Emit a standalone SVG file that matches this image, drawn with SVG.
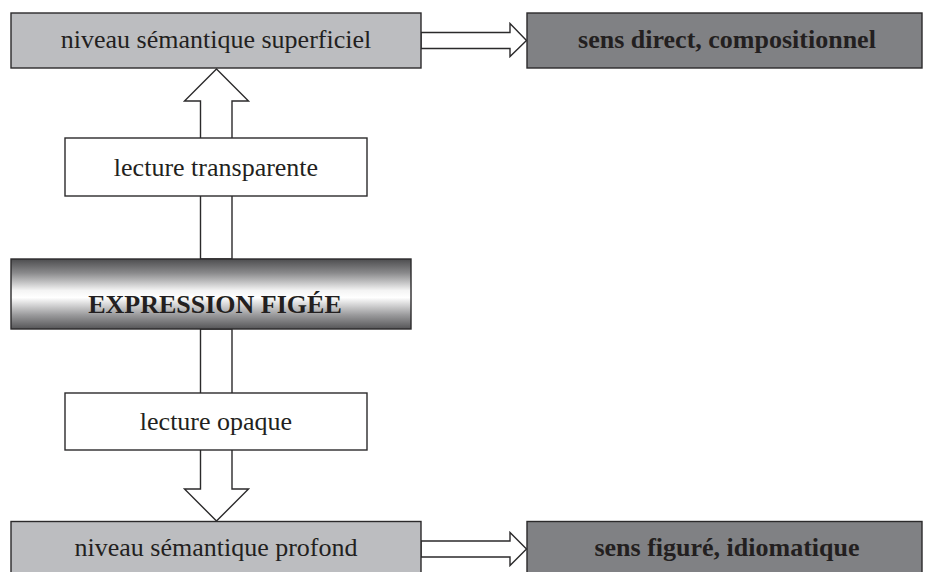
<svg xmlns="http://www.w3.org/2000/svg" width="932" height="572" viewBox="0 0 932 572">
<defs>
<style>
.bx{stroke:#2b2a2b;stroke-width:1.4}
.light{fill:#bcbdc0}
.dark{fill:#808184}
.white{fill:#ffffff}
.ar{fill:#ffffff;stroke:#2b2a2b;stroke-width:1.4;stroke-linejoin:miter}
.t{font-family:"Liberation Serif","Times New Roman",serif;font-size:26px;fill:#231f20;text-anchor:middle}
.b{font-weight:bold}
</style>
<linearGradient id="g" x1="0" y1="0" x2="0" y2="1">
<stop offset="0" stop-color="#4d4d4f"/>
<stop offset="0.2" stop-color="#8a8a8c"/>
<stop offset="0.45" stop-color="#f4f4f4"/>
<stop offset="0.55" stop-color="#ffffff"/>
<stop offset="0.8" stop-color="#9a9a9c"/>
<stop offset="1" stop-color="#555557"/>
</linearGradient>
</defs>
<rect width="932" height="572" fill="#ffffff"/>
<g id="connectors">
<polygon class="ar" points="216.5,69 248.5,101 232,101 232,259 200.5,259 200.5,101 184.5,101"/>
<polygon class="ar" points="216.5,521 248.5,489 232,489 232,329 200.5,329 200.5,489 184.5,489"/>
<polygon class="ar" points="421,32.5 510,32.5 510,23.5 526.5,40.5 510,56.5 510,48.5 421,48.5"/>
<polygon class="ar" points="421,541 510,541 510,532.5 526.5,549 510,565.5 510,557 421,557"/>
</g>
<g id="superficiel">
<rect class="bx light" x="11" y="13" width="410" height="55"/>
<text class="t" x="216" y="48">niveau sémantique superficiel</text>
</g>
<g id="direct">
<rect class="bx dark" x="527" y="13" width="395" height="55"/>
<text class="t b" x="727" y="48">sens direct, compositionnel</text>
</g>
<g id="transparente">
<rect class="bx white" x="65" y="138" width="302" height="58"/>
<text class="t" x="216" y="176">lecture transparente</text>
</g>
<g id="expression">
<rect class="bx" fill="url(#g)" x="11" y="259" width="400" height="70"/>
<text class="t b" x="215" y="313">EXPRESSION FIGÉE</text>
</g>
<g id="opaque">
<rect class="bx white" x="65" y="393" width="302" height="57"/>
<text class="t" x="216" y="430">lecture opaque</text>
</g>
<g id="profond">
<rect class="bx light" x="11" y="521.5" width="410" height="56"/>
<text class="t" x="216" y="556">niveau sémantique profond</text>
</g>
<g id="figure">
<rect class="bx dark" x="527" y="521.5" width="395" height="56"/>
<text class="t b" x="727" y="556">sens figuré, idiomatique</text>
</g>
</svg>
